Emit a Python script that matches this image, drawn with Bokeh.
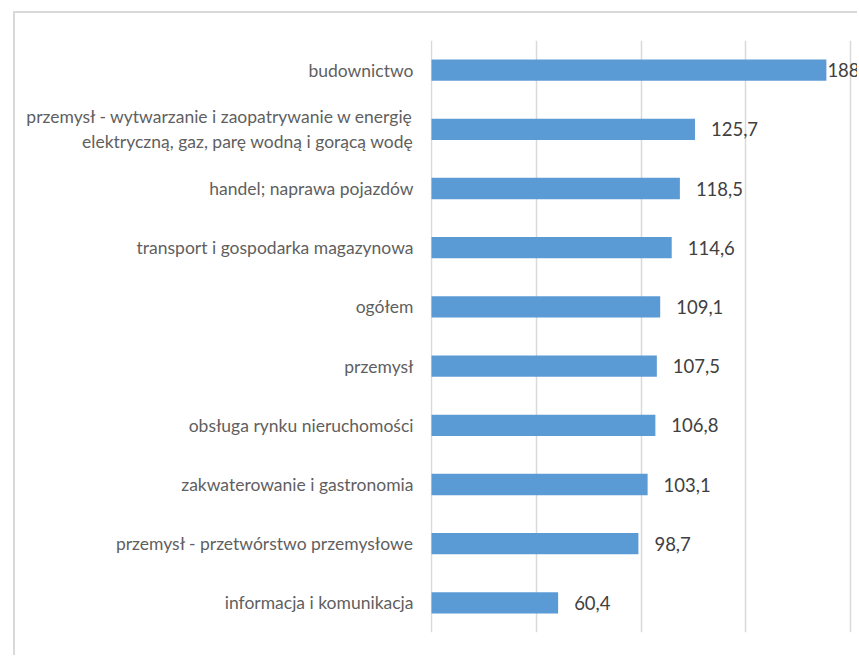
from bokeh.plotting import figure
from bokeh.models import FactorRange, Range1d, FixedTicker, ColumnDataSource
from bokeh.core.properties import value
from bokeh.embed import file_html
from bokeh.resources import INLINE

categories = [
    "budownictwo",
    "przemysł - wytwarzanie i zaopatrywanie w energię\nelektryczną, gaz, parę wodną i gorącą wodę",
    "handel; naprawa pojazdów",
    "transport i gospodarka magazynowa",
    "ogółem",
    "przemysł",
    "obsługa rynku nieruchomości",
    "zakwaterowanie i gastronomia",
    "przemysł - przetwórstwo przemysłowe",
    "informacja i komunikacja",
]
values = [188.4, 125.7, 118.5, 114.6, 109.1, 107.5, 106.8, 103.1, 98.7, 60.4]
x_ticks = [0, 50, 100, 150, 200]

labels = [f"{v:.1f}".replace(".", ",") for v in values]
offsets = [1 if v > 180 else 16 for v in values]

source = ColumnDataSource(dict(cat=categories, val=values, lab=labels, off=offsets))

FONT = "Lato"

p = figure(
    width=844, height=644,
    y_range=FactorRange(factors=list(reversed(categories)), range_padding=0),
    x_range=Range1d(-0.5, 204.2),
    output_backend="svg", toolbar_location=None,
    min_border_left=415, min_border_right=0, min_border_top=27, min_border_bottom=25,
)
p.margin = (11, 0, 0, 13)
p.styles = {"border-top": "2px solid #d9d9d9", "border-left": "2px solid #d9d9d9"}
p.outline_line_color = None
p.background_fill_color = "white"
p.border_fill_color = "white"

p.hbar(y="cat", right="val", left=0, height=0.36, source=source,
       fill_color="#5b9bd5", line_color=None)

p.text(x="val", y="cat", text="lab", x_offset="off", source=source,
       text_align="left", text_baseline="middle",
       text_font=value(FONT), text_font_size="18.5px", text_color="#404040")

p.xaxis.visible = False
p.xaxis.ticker = FixedTicker(ticks=x_ticks)
p.xgrid.ticker = FixedTicker(ticks=x_ticks)
p.xgrid.grid_line_color = "#d9d9d9"
p.xgrid.grid_line_width = 1.5
p.ygrid.grid_line_color = None

yax = p.yaxis[0]
yax.axis_line_color = None
yax.major_tick_line_color = None
yax.minor_tick_line_color = None
yax.major_label_standoff = 11
yax.major_label_text_font = FONT
yax.major_label_text_font_size = "17.5px"
yax.major_label_text_color = "#5f5f5f"

open("out.html", "w").write(file_html(p, INLINE))
